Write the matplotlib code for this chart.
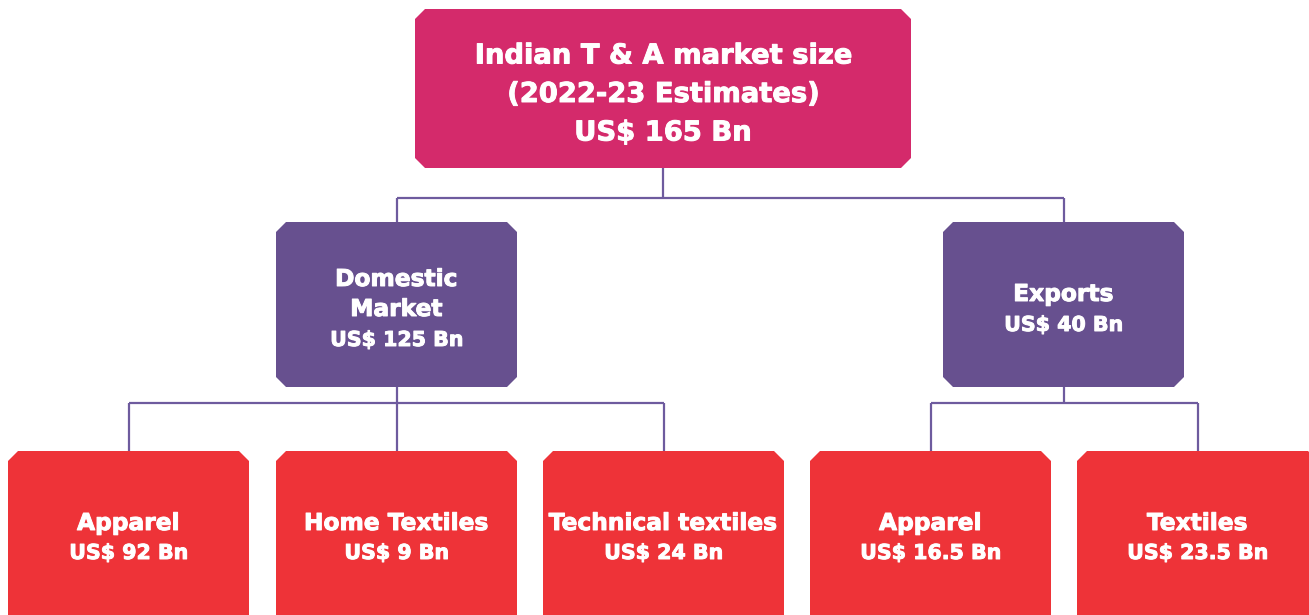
import matplotlib
matplotlib.use("Agg")
import matplotlib.pyplot as plt
import matplotlib.patheffects as pe
from matplotlib.patches import Polygon

# Data
root_label = ["Indian T & A market size", "(2022-23 Estimates)"]
root_value = 165
mid_labels = ["Domestic\nMarket", "Exports"]
mid_values = [125, 40]
leaf_labels = ["Apparel", "Home Textiles", "Technical textiles", "Apparel", "Textiles"]
leaf_values = [92, 9, 24, 16.5, 23.5]
leaf_parent = [0, 0, 0, 1, 1]

PINK = "#D42A6B"
PURPLE = "#67508F"
RED = "#EE3338"
LINE = "#6E5B9E"
FONT = "DejaVu Sans"

W, H = 1309, 615
fig = plt.figure(figsize=(W / 100, H / 100), dpi=100)
ax = fig.add_axes([0, 0, 1, 1])
ax.set_xlim(0, W)
ax.set_ylim(H, 0)
ax.axis("off")


def box(cx, y0, w, h, color, c=10):
    x0, x1 = cx - w / 2, cx + w / 2
    y1 = y0 + h
    pts = [(x0 + c, y0), (x1 - c, y0), (x1, y0 + c), (x1, y1 - c),
           (x1 - c, y1), (x0 + c, y1), (x0, y1 - c), (x0, y0 + c)]
    ax.add_patch(Polygon(pts, closed=True, facecolor=color, edgecolor="none", zorder=2))


def fmt(v):
    return f"US$ {v:g} Bn"


def line(xs, ys):
    ax.plot(xs, ys, color=LINE, lw=1.6, zorder=1, solid_capstyle="butt")


STROKE = [pe.withStroke(linewidth=0.7, foreground="white")]


def txt(x, y, s, size):
    ax.text(x, y, s, ha="center", va="center_baseline", color="white",
            fontsize=size, fontweight="bold", family=FONT, zorder=3,
            path_effects=STROKE)

# Layout
root_cx, root_y, root_w, root_h = 663, 9, 496, 159
mid_cx = [396.5, 1063.5]
mid_y, mid_w, mid_h = 222, 241, 165
leaf_cx = [128.5, 396.5, 663.5, 930.5, 1197.5]
leaf_y, leaf_w, leaf_h = 451, 241, 175

# connectors
line([root_cx, root_cx], [root_y + root_h, 198])
line([mid_cx[0], mid_cx[1]], [198, 198])
for cx in mid_cx:
    line([cx, cx], [198, mid_y])
for i, cx in enumerate(mid_cx):
    kids = [leaf_cx[j] for j in range(len(leaf_cx)) if leaf_parent[j] == i]
    line([cx, cx], [mid_y + mid_h, 403])
    line([min(kids), max(kids)], [403, 403])
    for k in kids:
        line([k, k], [403, leaf_y])

# root
box(root_cx, root_y, root_w, root_h, PINK)
root_lines = root_label + [fmt(root_value)]
for i, t in enumerate(root_lines):
    txt(root_cx, 53.5 + 38.5 * i, t, 19.7)

# mid
for cx, lab, v in zip(mid_cx, mid_labels, mid_values):
    box(cx, mid_y, mid_w, mid_h, PURPLE)
    parts = lab.split("\n")
    n = len(parts)
    top = 307 - n * 30 / 2
    for i, t in enumerate(parts):
        txt(cx, top + 30 * i, t, 16.8)
    txt(cx, top + 30 * n + 1, fmt(v), 14.8)

# leaves
for cx, lab, v in zip(leaf_cx, leaf_labels, leaf_values):
    box(cx, leaf_y, leaf_w, leaf_h, RED)
    txt(cx, 521, lab, 16.8)
    txt(cx, 551, fmt(v), 14.8)

fig.savefig("out.png", dpi=100, facecolor="white")
